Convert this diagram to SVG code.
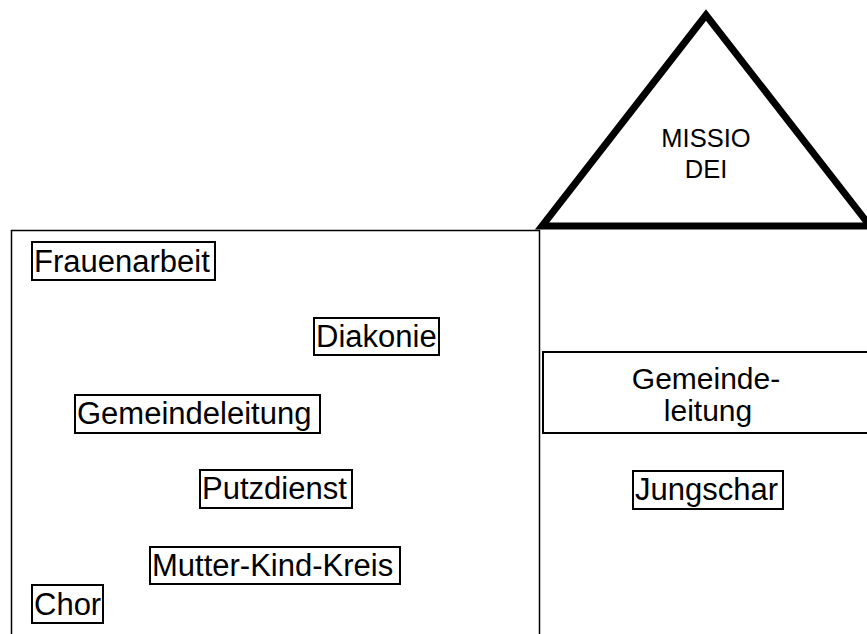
<svg xmlns="http://www.w3.org/2000/svg" width="867" height="634" viewBox="0 0 867 634">
<style>
text{font-family:"Liberation Sans",Arial,sans-serif;fill:#000;}
.lbl{font-size:31px;}
.box{fill:none;stroke:#000;stroke-width:2;}
.house{fill:none;stroke:#000;stroke-width:1.5;}
</style>
<rect width="867" height="634" fill="#fff"/>
<g id="house">
<path class="house" d="M11.5,640 V230.5 H539.5 V640"/>
</g>
<g id="roof">
<polygon points="706,15 542,226 870,226" fill="none" stroke="#000" stroke-width="7" stroke-linejoin="miter"/>
<text x="706" y="147" font-size="25.5" text-anchor="middle">MISSIO</text>
<text x="706" y="178" font-size="25.5" text-anchor="middle">DEI</text>
</g>
<g id="frauenarbeit">
<rect class="box" x="32" y="242" width="183" height="38"/>
<text class="lbl" x="34" y="272">Frauenarbeit</text>
</g>
<g id="diakonie">
<rect class="box" x="314" y="318" width="125" height="37"/>
<text class="lbl" x="316" y="347">Diakonie</text>
</g>
<g id="gemeindeleitung-left">
<rect class="box" x="75" y="395" width="245" height="38"/>
<text class="lbl" x="77" y="424">Gemeindeleitung</text>
</g>
<g id="putzdienst">
<rect class="box" x="200" y="470" width="152" height="38"/>
<text class="lbl" x="202" y="499">Putzdienst</text>
</g>
<g id="mutter-kind-kreis">
<rect class="box" x="150" y="547" width="250" height="37"/>
<text class="lbl" x="152" y="576">Mutter-Kind-Kreis</text>
</g>
<g id="chor">
<rect class="box" x="32" y="585" width="71" height="38"/>
<text class="lbl" x="34" y="615">Chor</text>
</g>
<g id="gemeindeleitung-right">
<rect class="box" x="543" y="352" width="340" height="81"/>
<text x="706" y="389" font-size="30" text-anchor="middle">Gemeinde-</text>
<text x="708" y="421" font-size="30" text-anchor="middle">leitung</text>
</g>
<g id="jungschar">
<rect class="box" x="633" y="471" width="150" height="38"/>
<text class="lbl" x="635" y="500">Jungschar</text>
</g>
<g id="connectors"></g>
</svg>
